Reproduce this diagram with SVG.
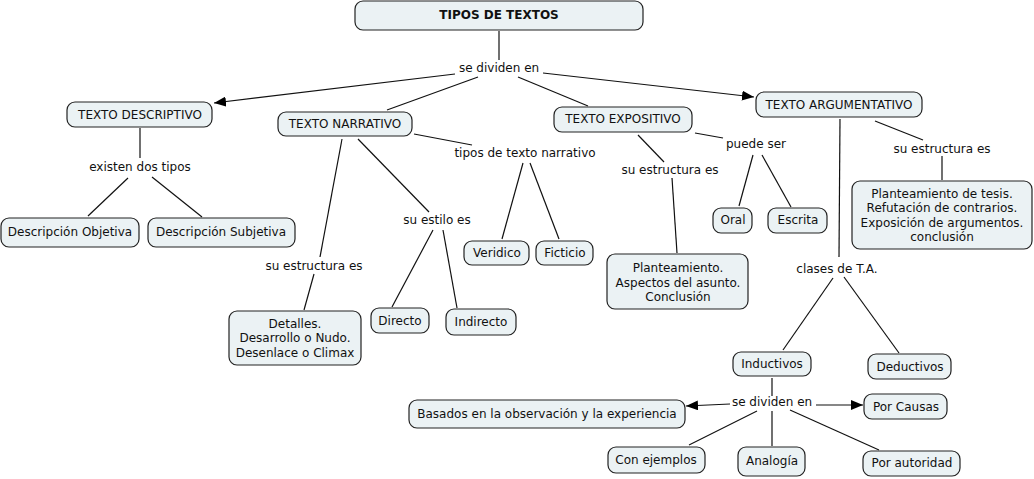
<svg xmlns="http://www.w3.org/2000/svg" width="1034" height="479" viewBox="0 0 1034 479">
<defs>
<marker id="arr" markerUnits="userSpaceOnUse" markerWidth="12" markerHeight="10" refX="12" refY="5" orient="auto">
<path d="M0,0 L12,5 L0,10 z" fill="#000"/>
</marker>
<style>
.n rect{fill:#ebf2f4;stroke:#222;stroke-width:1.2}
text{font-family:"DejaVu Sans",Verdana,sans-serif;font-size:12px;fill:#111;text-anchor:middle;dominant-baseline:central}
.b{font-weight:bold}
#connectors line{stroke:#111;stroke-width:1.2}
.a{marker-end:url(#arr)}
</style>
</defs>
<rect width="1034" height="479" fill="#fff"/>
<g id="connectors">
<line x1="499" y1="31" x2="499" y2="60"/>
<line class="a" x1="455" y1="74" x2="214" y2="103"/>
<line x1="478" y1="77" x2="387" y2="110"/>
<line x1="518" y1="77" x2="588" y2="106"/>
<line class="a" x1="543" y1="73" x2="754" y2="97"/>
<line x1="140" y1="128" x2="140" y2="158"/>
<line x1="128" y1="178" x2="88" y2="216"/>
<line x1="152" y1="177" x2="202" y2="217"/>
<line x1="342" y1="139" x2="320" y2="257"/>
<line x1="314" y1="274" x2="304" y2="310"/>
<line x1="358" y1="139" x2="429" y2="212"/>
<line x1="433" y1="230" x2="392" y2="307"/>
<line x1="443" y1="230" x2="457" y2="308"/>
<line x1="414" y1="134" x2="472" y2="145"/>
<line x1="523" y1="163" x2="502" y2="239"/>
<line x1="530" y1="163" x2="559" y2="239"/>
<line x1="638" y1="135" x2="664" y2="162"/>
<line x1="672" y1="178" x2="677" y2="253"/>
<line x1="695" y1="133" x2="723" y2="138"/>
<line x1="753" y1="155" x2="739" y2="206"/>
<line x1="762" y1="155" x2="791" y2="207"/>
<line x1="875" y1="121" x2="923" y2="140"/>
<line x1="942" y1="156" x2="942" y2="180"/>
<line x1="840" y1="119" x2="839" y2="257"/>
<line x1="833" y1="278" x2="783" y2="350"/>
<line x1="844" y1="277" x2="899" y2="353"/>
<line x1="772" y1="378" x2="772" y2="396"/>
<line class="a" x1="730" y1="404" x2="686" y2="406"/>
<line class="a" x1="816" y1="405" x2="863" y2="405"/>
<line x1="757" y1="411" x2="689" y2="445"/>
<line x1="772" y1="411" x2="772" y2="446"/>
<line x1="790" y1="410" x2="879" y2="450"/>
</g>
<g id="labels">
<text x="499" y="68">se dividen en</text>
<text x="140" y="167">existen dos tipos</text>
<text x="525" y="153">tipos de texto narrativo</text>
<text x="437" y="220">su estilo es</text>
<text x="314" y="266">su estructura es</text>
<text x="670" y="170">su estructura es</text>
<text x="756" y="144">puede ser</text>
<text x="942" y="149">su estructura es</text>
<text x="837" y="269">clases de T.A.</text>
<text x="772" y="402">se dividen en</text>
</g>
<g id="tipos" class="n"><rect x="355" y="1" width="288" height="29" rx="8"/><text class="b" x="499" y="15">TIPOS DE TEXTOS</text></g>
<g id="descriptivo" class="n"><rect x="67" y="102" width="145" height="25" rx="8"/><text x="140" y="115">TEXTO DESCRIPTIVO</text></g>
<g id="narrativo" class="n"><rect x="278" y="112" width="134" height="24" rx="8"/><text x="345" y="124">TEXTO NARRATIVO</text></g>
<g id="expositivo" class="n"><rect x="554" y="107" width="138" height="25" rx="8"/><text x="623" y="119">TEXTO EXPOSITIVO</text></g>
<g id="argumentativo" class="n"><rect x="756" y="92" width="166" height="25" rx="8"/><text x="839" y="105">TEXTO ARGUMENTATIVO</text></g>
<g id="objetiva" class="n"><rect x="1" y="218" width="138" height="29" rx="8"/><text x="70" y="232">Descripción Objetiva</text></g>
<g id="subjetiva" class="n"><rect x="148" y="218" width="147" height="29" rx="8"/><text x="221" y="232">Descripción Subjetiva</text></g>
<g id="detalles" class="n"><rect x="229" y="311" width="132" height="54" rx="8"/><text x="295" y="324">Detalles.</text><text x="295" y="338">Desarrollo o Nudo.</text><text x="295" y="353">Desenlace o Climax</text></g>
<g id="directo" class="n"><rect x="371" y="308" width="58" height="25" rx="8"/><text x="400" y="321">Directo</text></g>
<g id="indirecto" class="n"><rect x="446" y="309" width="70" height="26" rx="8"/><text x="481" y="322">Indirecto</text></g>
<g id="veridico" class="n"><rect x="464" y="241" width="65" height="24" rx="8"/><text x="497" y="253">Veridico</text></g>
<g id="ficticio" class="n"><rect x="536" y="241" width="57" height="24" rx="8"/><text x="565" y="253">Ficticio</text></g>
<g id="planteamiento" class="n"><rect x="607" y="254" width="141" height="55" rx="8"/><text x="678" y="268">Planteamiento.</text><text x="678" y="283">Aspectos del asunto.</text><text x="678" y="297">Conclusión</text></g>
<g id="oral" class="n"><rect x="713" y="208" width="39" height="25" rx="8"/><text x="733" y="220">Oral</text></g>
<g id="escrita" class="n"><rect x="768" y="208" width="59" height="25" rx="8"/><text x="798" y="220">Escrita</text></g>
<g id="tesis" class="n"><rect x="852" y="181" width="180" height="68" rx="8"/><text x="942" y="193.5">Planteamiento de tesis.</text><text x="942" y="208">Refutación de contrarios.</text><text x="942" y="222.5">Exposición de argumentos.</text><text x="942" y="237">conclusión</text></g>
<g id="inductivos" class="n"><rect x="733" y="352" width="78" height="24" rx="8"/><text x="772" y="364">Inductivos</text></g>
<g id="deductivos" class="n"><rect x="868" y="354" width="83" height="25" rx="8"/><text x="910" y="367">Deductivos</text></g>
<g id="basados" class="n"><rect x="409" y="400" width="276" height="28" rx="8"/><text x="547" y="414">Basados en la observación y la experiencia</text></g>
<g id="causas" class="n"><rect x="864" y="394" width="83" height="25" rx="8"/><text x="906" y="407">Por Causas</text></g>
<g id="ejemplos" class="n"><rect x="608" y="447" width="97" height="26" rx="8"/><text x="656" y="460">Con ejemplos</text></g>
<g id="analogia" class="n"><rect x="738" y="447" width="67" height="29" rx="8"/><text x="772" y="461">Analogía</text></g>
<g id="autoridad" class="n"><rect x="863" y="451" width="97" height="25" rx="8"/><text x="912" y="463">Por autoridad</text></g>
</svg>
